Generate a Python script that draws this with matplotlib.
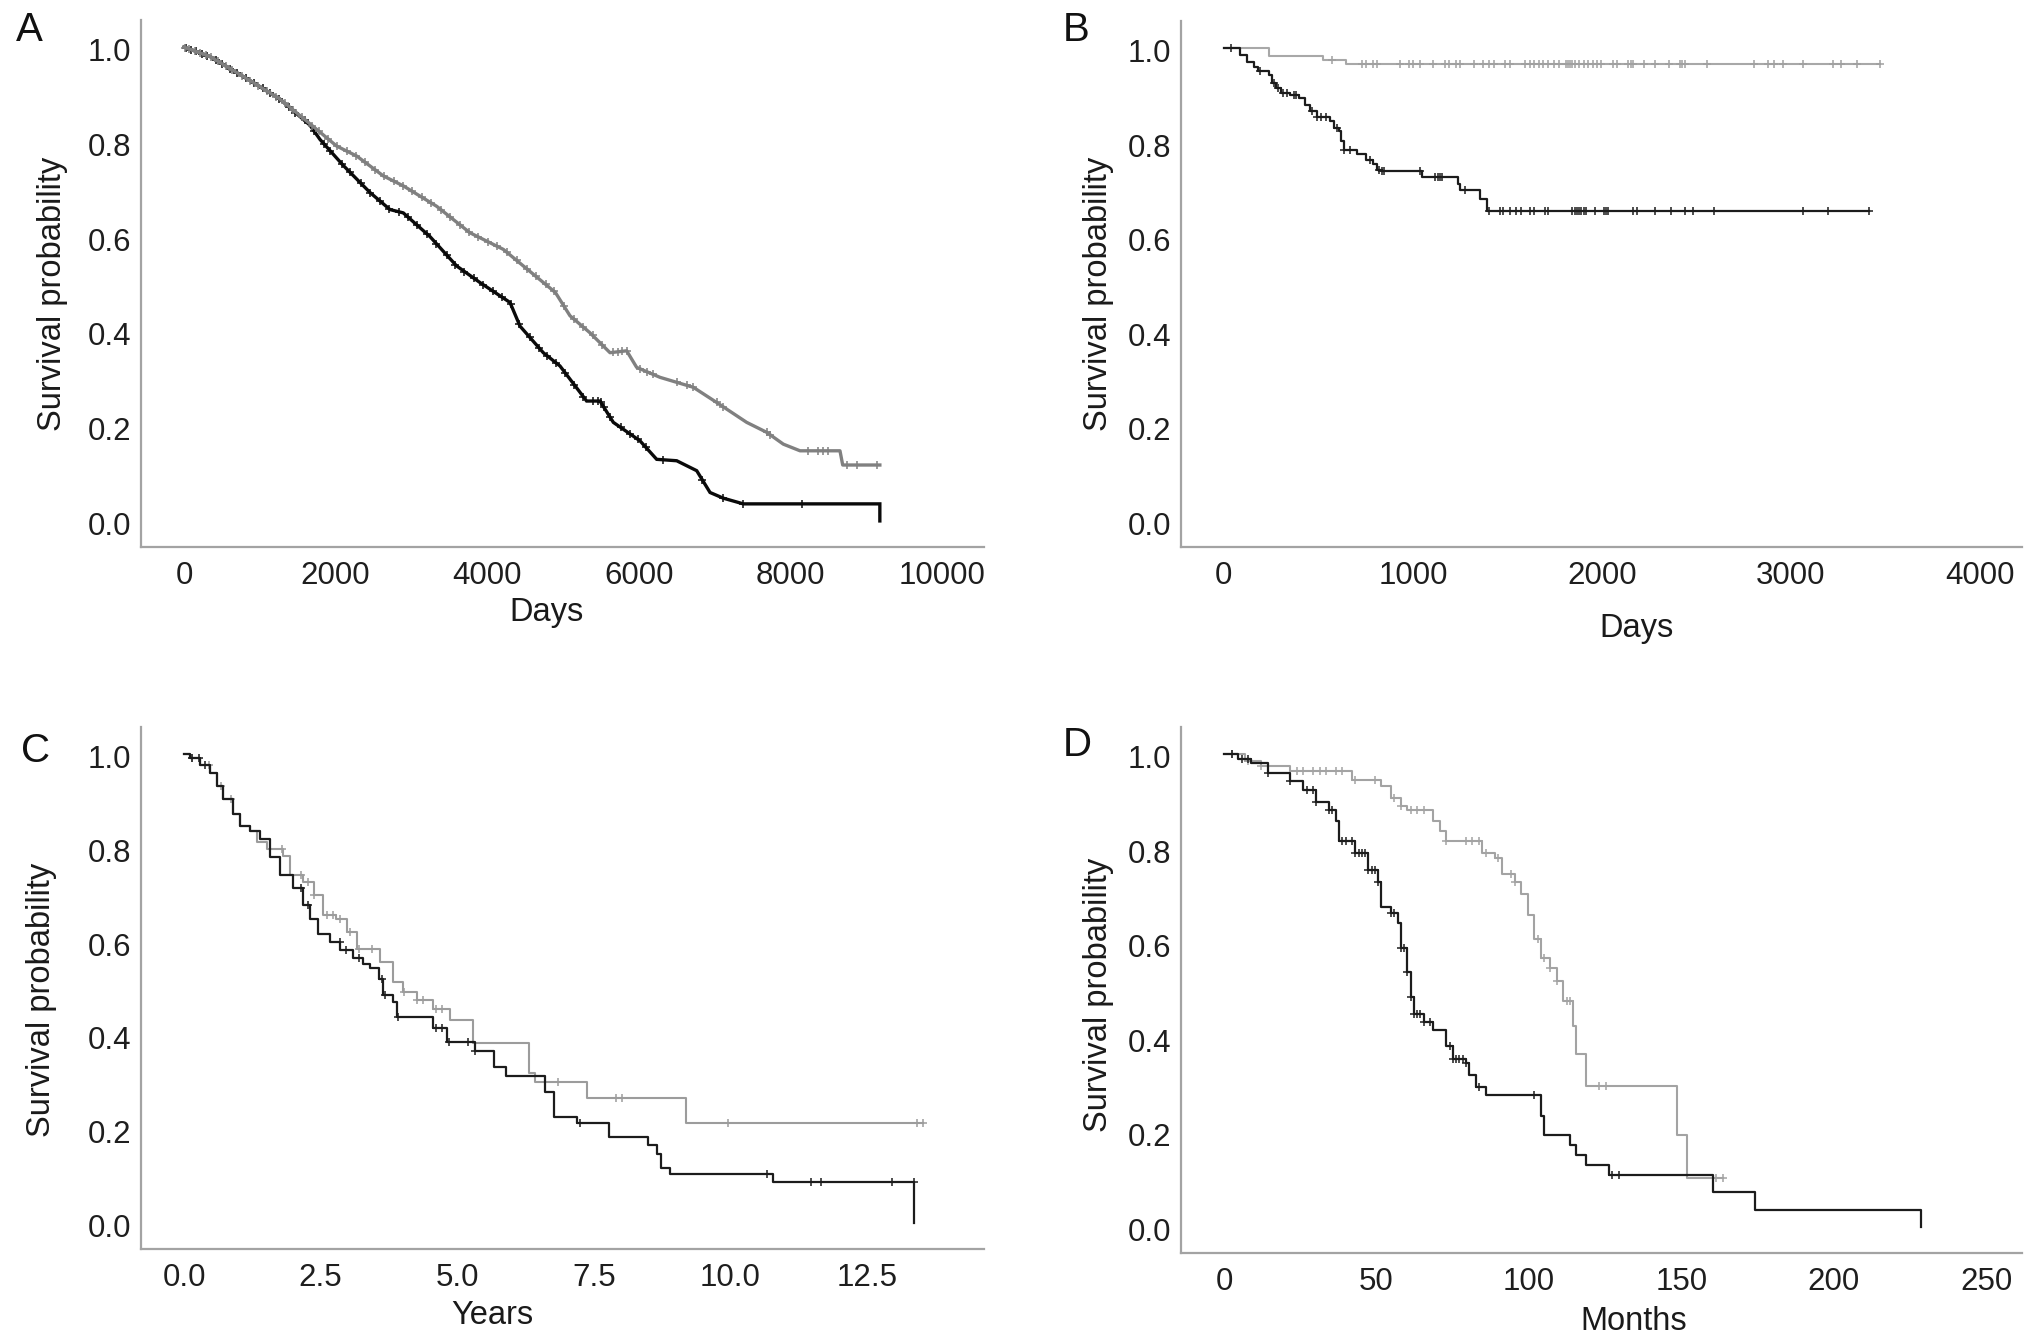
import numpy as np
import matplotlib
matplotlib.use("Agg")
import matplotlib.pyplot as plt
from matplotlib.transforms import ScaledTranslation

plt.rcParams['font.family'] = ['Liberation Sans', 'DejaVu Sans']

# ---------------- data ----------------
# Panel A (days) - dense curves, drawn as lines through read points
a_black_days = [0, 343, 914, 1266, 1662, 1794, 2102, 2454, 2718, 2893, 3245, 3597, 3905, 4301,
                4433, 4740, 4960, 5312, 5488, 5664, 6016, 6236, 6500, 6764, 6940, 7115, 7379, 9180, 9180]
a_black_surv = [1.0, 0.98, 0.925, 0.89, 0.835, 0.805, 0.75, 0.693, 0.657, 0.65, 0.60, 0.538, 0.503, 0.461,
                0.411, 0.355, 0.327, 0.253, 0.253, 0.208, 0.169, 0.130, 0.127, 0.106, 0.060, 0.048, 0.036, 0.036, 0.0]
a_gray_days = [0, 343, 914, 1266, 1662, 2014, 2278, 2630, 2893, 3333, 3773, 4037, 4213, 4477, 4900,
               5092, 5356, 5620, 5840, 5972, 6280, 6719, 7027, 7423, 7687, 7907, 8127, 8654, 8690, 9180]
a_gray_surv = [1.0, 0.98, 0.925, 0.89, 0.838, 0.791, 0.770, 0.728, 0.707, 0.664, 0.608, 0.587, 0.573, 0.538, 0.482,
               0.433, 0.397, 0.355, 0.359, 0.324, 0.303, 0.282, 0.250, 0.208, 0.187, 0.162, 0.148, 0.148, 0.118, 0.118]
a_black_cens = [30, 90, 160, 240, 310, 420, 500, 610, 700, 820, 930, 1040, 1130, 1260, 1380, 1470, 1590,
                1720, 1850, 1930, 2080, 2190, 2330, 2460, 2590, 2710, 2840, 2960, 3080, 3210, 3330, 3470,
                3580, 3700, 3820, 3950, 4080, 4190, 4310, 4420, 4560, 4680, 4790, 4910, 5030, 5150, 5270,
                5390, 5460, 5500, 5540, 5620, 5760, 5880, 5990, 6090, 6320, 6840, 7115, 7379, 8150]
a_gray_cens = [20, 70, 140, 210, 290, 360, 450, 560, 640, 760, 870, 980, 1090, 1210, 1330, 1440, 1560,
               1690, 1780, 1900, 2020, 2150, 2270, 2390, 2520, 2640, 2770, 2890, 3010, 3140, 3260, 3390,
               3510, 3640, 3760, 3880, 4010, 4130, 4260, 4390, 4520, 4640, 4770, 4880, 5010, 5140, 5260,
               5390, 5520, 5664, 5720, 5780, 5840, 6016, 6104, 6192, 6500, 6632, 6719, 7027, 7115, 7687,
               7731, 8232, 8364, 8430, 8496, 8742, 8874, 9138]

# Panel B (days) - step curves
b_black_days = [0, 87, 122, 158, 182, 241, 253, 277, 300, 348, 395, 431, 455, 490, 561, 585, 609, 621,
                633, 704, 751, 787, 811, 834, 1048, 1238, 1250, 1357, 1390, 3410]
b_black_surv = [1.0, 0.985, 0.971, 0.960, 0.951, 0.943, 0.925, 0.915, 0.904, 0.901, 0.894, 0.880, 0.866,
                0.855, 0.845, 0.831, 0.824, 0.803, 0.785, 0.775, 0.764, 0.754, 0.743, 0.740, 0.727, 0.712,
                0.699, 0.680, 0.656, 0.656]
b_gray_days = [0, 241, 526, 645, 3469]
b_gray_surv = [1.0, 0.983, 0.974, 0.967, 0.967]
b_black_cens = [39, 193, 265, 288, 312, 336, 371, 383, 466, 490, 514, 538, 597, 633, 668, 775, 822, 834,
                846, 1036, 1119, 1131, 1143, 1155, 1273, 1404, 1463, 1475, 1511, 1546, 1570, 1618, 1641,
                1701, 1713, 1843, 1855, 1867, 1879, 1891, 1903, 1914, 1962, 2009, 2021, 2033, 2164, 2187,
                2282, 2365, 2437, 2484, 2591, 3066, 3196, 3410]
b_gray_cens = [573, 728, 751, 787, 811, 929, 977, 1000, 1036, 1107, 1167, 1190, 1226, 1250, 1321, 1368,
               1404, 1428, 1487, 1511, 1594, 1618, 1641, 1665, 1689, 1713, 1748, 1772, 1808, 1820, 1831,
               1843, 1855, 1879, 1903, 1926, 1950, 1974, 1997, 2057, 2081, 2140, 2152, 2164, 2223, 2282,
               2354, 2413, 2425, 2437, 2555, 2804, 2876, 2911, 2959, 3066, 3220, 3267, 3351, 3469]

# Panel C (years)
c_black_years = [0, 0.11, 0.29, 0.48, 0.60, 0.72, 0.90, 1.02, 1.21, 1.39, 1.57, 1.76, 2.00, 2.18, 2.31,
                 2.46, 2.67, 2.86, 3.10, 3.28, 3.40, 3.56, 3.65, 3.83, 3.89, 4.56, 4.81, 5.32, 5.67, 5.90,
                 6.61, 6.78, 7.19, 7.78, 8.49, 8.66, 8.72, 8.90, 10.77, 13.36, 13.36]
c_black_surv = [1.0, 0.992, 0.975, 0.960, 0.932, 0.904, 0.872, 0.847, 0.836, 0.819, 0.780, 0.741, 0.713,
                0.677, 0.649, 0.617, 0.599, 0.582, 0.564, 0.553, 0.543, 0.521, 0.486, 0.472, 0.440, 0.415,
                0.387, 0.367, 0.332, 0.314, 0.279, 0.227, 0.214, 0.183, 0.166, 0.148, 0.118, 0.105, 0.087,
                0.087, 0.0]
c_gray_years = [0, 0.11, 0.29, 0.48, 0.60, 0.72, 0.90, 1.02, 1.21, 1.33, 1.51, 1.82, 1.94, 2.18, 2.37,
                2.55, 2.79, 2.98, 3.16, 3.59, 3.83, 4.01, 4.26, 4.56, 4.87, 5.29, 6.31, 6.43, 7.37, 9.19, 13.53]
c_gray_surv = [1.0, 0.992, 0.975, 0.960, 0.932, 0.904, 0.872, 0.847, 0.836, 0.812, 0.797, 0.783, 0.741,
               0.727, 0.699, 0.656, 0.649, 0.620, 0.585, 0.557, 0.514, 0.493, 0.475, 0.457, 0.433, 0.383,
               0.319, 0.301, 0.266, 0.214, 0.214]
c_black_cens = [0.15, 0.27, 0.39, 2.15, 2.27, 2.85, 2.97, 3.20, 3.62, 3.67, 3.91, 4.61, 4.73, 4.85, 5.20,
                5.32, 7.25, 10.66, 11.48, 11.65, 12.95, 13.36]
c_gray_cens = [0.15, 0.45, 0.68, 0.86, 1.80, 2.15, 2.27, 2.38, 2.62, 2.73, 2.85, 3.03, 3.20, 3.44, 4.03,
               4.26, 4.38, 4.61, 4.73, 6.84, 7.90, 8.02, 9.95, 13.42, 13.53]

# Panel D (months)
d_black_months = [0, 4.7, 9.0, 14.3, 21.8, 26.0, 30.3, 34.6, 36.7, 37.8, 43.1, 47.4, 50.6, 51.6, 54.8,
                  57.0, 58.0, 60.2, 61.2, 62.3, 65.5, 68.7, 73.0, 75.1, 79.4, 80.4, 82.6, 85.8, 103.9, 105.0,
                  113.5, 115.6, 118.8, 126.3, 160.4, 174.3, 228.7, 228.7]
d_black_surv = [1.0, 0.99, 0.981, 0.959, 0.942, 0.924, 0.898, 0.881, 0.859, 0.816, 0.790, 0.755, 0.729,
                0.677, 0.664, 0.642, 0.590, 0.538, 0.486, 0.451, 0.434, 0.417, 0.382, 0.356, 0.347, 0.321,
                0.295, 0.278, 0.234, 0.195, 0.174, 0.152, 0.130, 0.109, 0.074, 0.035, 0.035, 0.0]
d_gray_months = [0, 6.8, 12.2, 21.8, 42.0, 51.6, 54.8, 58.0, 60.2, 68.7, 70.8, 73.0, 84.7, 89.0, 91.1,
                 95.4, 97.5, 99.6, 101.8, 103.9, 107.1, 109.2, 111.3, 114.5, 115.6, 118.8, 148.7, 151.9, 163.6]
d_gray_surv = [1.0, 0.985, 0.975, 0.964, 0.946, 0.933, 0.907, 0.890, 0.881, 0.859, 0.838, 0.816, 0.790,
               0.781, 0.747, 0.729, 0.703, 0.660, 0.608, 0.569, 0.547, 0.521, 0.477, 0.425, 0.365, 0.299,
               0.195, 0.104, 0.104]
d_black_cens = [2.6, 5.8, 7.9, 14.3, 21.8, 27.1, 29.2, 30.3, 34.6, 35.6, 38.8, 39.9, 42.0, 43.1, 44.2,
                45.2, 46.3, 47.4, 48.4, 49.5, 50.6, 54.8, 55.9, 58.0, 59.1, 60.2, 61.2, 62.3, 63.4, 64.4,
                65.5, 67.6, 74.0, 75.1, 76.2, 77.2, 78.3, 79.4, 83.6, 101.7, 127.3, 129.5]
d_gray_cens = [2.6, 7.9, 12.2, 23.9, 26.0, 29.2, 31.4, 33.5, 36.7, 38.8, 43.1, 49.5, 55.9, 58.0, 61.2,
               63.4, 65.5, 73.0, 79.4, 81.5, 83.6, 85.8, 90.0, 94.3, 95.4, 102.9, 105.0, 107.1, 109.2,
               112.4, 113.5, 123.1, 125.2, 161.5, 163.6]

y_ticks = [0.0, 0.2, 0.4, 0.6, 0.8, 1.0]
y_tick_labels = ["0.0", "0.2", "0.4", "0.6", "0.8", "1.0"]
a_x_ticks = [0, 2000, 4000, 6000, 8000, 10000]
b_x_ticks = [0, 1000, 2000, 3000, 4000]
c_x_ticks = [0.0, 2.5, 5.0, 7.5, 10.0, 12.5]
c_x_tick_labels = ["0.0", "2.5", "5.0", "7.5", "10.0", "12.5"]
d_x_ticks = [0, 50, 100, 150, 200, 250]

# ---------------- figure ----------------
W, H = 2032, 1341
fig = plt.figure(figsize=(W / 100, H / 100), dpi=100)


def px_rect(l, r, t, b):
    return [l / W, 1 - b / H, (r - l) / W, (b - t) / H]


def step_lookup(times, surv, t):
    idx = np.searchsorted(np.asarray(times), t, side='right') - 1
    idx = np.clip(idx, 0, len(surv) - 1)
    return np.asarray(surv)[idx]


def style_axes(ax, xlim, xticks, xlabels=None):
    ax.set_xlim(*xlim)
    ax.set_ylim(-0.055, 1.057)
    for s in ['top', 'right']:
        ax.spines[s].set_visible(False)
    for s in ['left', 'bottom']:
        ax.spines[s].set_color('#a3a3a3')
        ax.spines[s].set_linewidth(1.6)
    ax.set_xticks(xticks)
    ax.set_xticklabels(xlabels if xlabels else [str(v) for v in xticks])
    ax.set_yticks(y_ticks)
    ax.set_yticklabels(y_tick_labels)
    ax.tick_params(axis='both', length=0, labelsize=22.5, colors='#1e1e1e')
    ax.tick_params(axis='x', pad=10)
    ax.tick_params(axis='y', pad=7)
    off = ScaledTranslation(0, -0.025, fig.dpi_scale_trans)
    for lab in ax.get_yticklabels():
        lab.set_transform(lab.get_transform() + off)


CENS = dict(linestyle='none', marker='+', markersize=6, markeredgewidth=1.1)

# Panel A
axA = fig.add_axes(px_rect(141, 984, 20, 547))
axA.plot(a_black_days, a_black_surv, color='#0a0a0a', lw=2.4, solid_joinstyle='miter')
axA.plot(a_black_cens, np.interp(a_black_cens, a_black_days[:-1], a_black_surv[:-1]),
         color='#0a0a0a', **CENS)
axA.plot(a_gray_days, a_gray_surv, color='#808080', lw=2.4)
axA.plot(a_gray_cens, np.interp(a_gray_cens, a_gray_days, a_gray_surv), color='#808080', **CENS)
style_axes(axA, (-567, 10554), a_x_ticks)

# Panel B
axB = fig.add_axes(px_rect(1181, 2022, 21, 547))
axB.plot(b_gray_days, b_gray_surv, color='#a8a8a8', lw=1.5, drawstyle='steps-post')
axB.plot(b_gray_cens, step_lookup(b_gray_days, b_gray_surv, b_gray_cens), color='#a0a0a0', **CENS)
axB.plot(b_black_days, b_black_surv, color='#1c1c1c', lw=1.6, drawstyle='steps-post')
axB.plot(b_black_cens, step_lookup(b_black_days, b_black_surv, b_black_cens), color='#1c1c1c', **CENS)
style_axes(axB, (-227, 4222), b_x_ticks)

# Panel C
axC = fig.add_axes(px_rect(141, 984, 727, 1249))
axC.plot(c_gray_years, c_gray_surv, color='#9c9c9c', lw=1.5, drawstyle='steps-post')
axC.plot(c_gray_cens, step_lookup(c_gray_years, c_gray_surv, c_gray_cens), color='#9c9c9c', **CENS)
axC.plot(c_black_years, c_black_surv, color='#1c1c1c', lw=1.6, drawstyle='steps-post')
axC.plot(c_black_cens, step_lookup(c_black_years[:-1], c_black_surv[:-1], c_black_cens),
         color='#1c1c1c', **CENS)
style_axes(axC, (-0.787, 14.64), c_x_ticks, c_x_tick_labels)

# Panel D
axD = fig.add_axes(px_rect(1181, 2022, 727, 1253))
axD.plot(d_gray_months, d_gray_surv, color='#a3a3a3', lw=1.5, drawstyle='steps-post')
axD.plot(d_gray_cens, step_lookup(d_gray_months, d_gray_surv, d_gray_cens), color='#a3a3a3', **CENS)
axD.plot(d_black_months, d_black_surv, color='#1c1c1c', lw=1.6, drawstyle='steps-post')
axD.plot(d_black_cens, step_lookup(d_black_months[:-1], d_black_surv[:-1], d_black_cens),
         color='#1c1c1c', **CENS)
style_axes(axD, (-14.1, 261.8), d_x_ticks)


def ftext(x, y, s, **kw):
    fig.text(x / W, 1 - y / H, s, **kw)


TITLE = dict(fontsize=23.5, color='#1a1a1a', ha='center', va='center')
ftext(546, 613, "Days", **TITLE)
ftext(1636, 628, "Days", **TITLE)
ftext(492, 1315, "Years", **TITLE)
ftext(1634, 1321, "Months", **TITLE)
ftext(53, 294, "Survival probability", rotation=90, **TITLE)
ftext(1099, 294, "Survival probability", rotation=90, **TITLE)
ftext(42, 1000, "Survival probability", rotation=90, **TITLE)
ftext(1099, 995, "Survival probability", rotation=90, **TITLE)

LET = dict(fontsize=29, color='#111111', ha='center', va='center')
ftext(29, 30, "A", **LET)
ftext(1076, 30, "B", **LET)
ftext(36, 751, "C", **LET)
ftext(1077, 745, "D", **LET)

fig.savefig("out.png", dpi=100)
